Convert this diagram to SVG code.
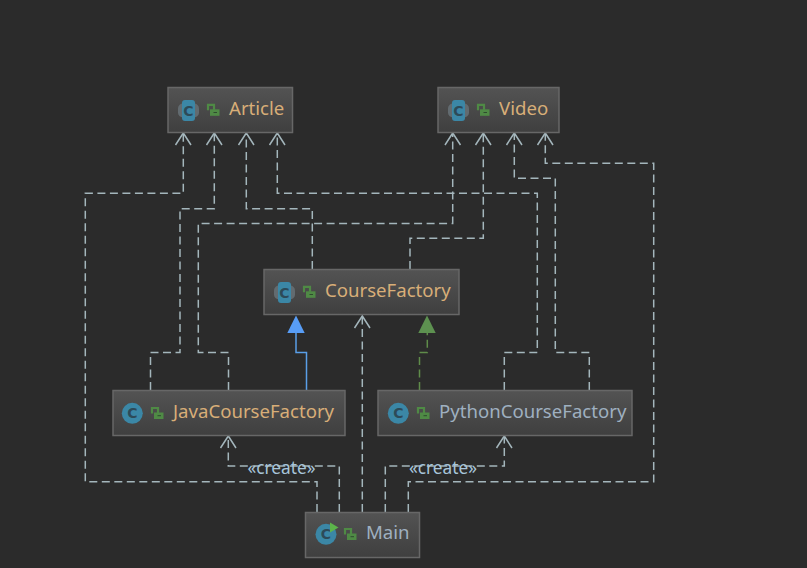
<svg xmlns="http://www.w3.org/2000/svg" xmlns:xlink="http://www.w3.org/1999/xlink" width="807" height="568" viewBox="0 0 807 568">
<style>
.box{fill:url(#boxg);stroke:#676767;stroke-width:1.5}
.name{font-family:"Noto Sans","DejaVu Sans",sans-serif;font-size:18.6px}
.o{fill:#d8ae78}
.b{fill:#9fb0c0}
.c{fill:none;stroke:#a4b6bc;stroke-width:1.5;stroke-dasharray:8 4.5}
.h{fill:none;stroke:#a4b6bc;stroke-width:1.5}
.lbl{font-family:"Noto Sans","DejaVu Sans",sans-serif;font-size:17.300px;fill:#a8c5da;text-anchor:middle}
.ic{font-family:"DejaVu Sans",sans-serif;font-size:14px;font-weight:bold;fill:#2d4a58;text-anchor:middle}
</style>
<defs>
<linearGradient id="boxg" x1="0" y1="0" x2="0" y2="1"><stop offset="0" stop-color="#535353"/><stop offset="1" stop-color="#3f3f3f"/></linearGradient>
<g id="lock"><path d="M1 6.500V1H7V6" fill="none" stroke="#4f8a45" stroke-width="2.200"/><rect x="3" y="5.500" width="9.500" height="6.500" fill="#4f8a45"/><rect x="6.500" y="8.200" width="3.500" height="1" fill="#2f4a2f"/></g>
<g id="cabs"><rect x="-10.500" y="-7" width="21" height="14" rx="5" fill="#626b70"/><rect x="-6.500" y="-10.500" width="13" height="21" rx="3" fill="#3b87a6"/></g>
</defs>
<rect width="807" height="568" fill="#2b2b2b"/>
<g id="connectors">
<path class="c" d="M317 512V481.700H85.300V193.300H183.300V134"/>
<path class="c" d="M150.500 390V352.500H180V208.700H214.300V134"/>
<path class="c" d="M228.500 390V352.500H198.300V223.500H452.700V134"/>
<path class="c" d="M312.300 269V208.700H246.300V134"/>
<path class="c" d="M410 269V238.300H483.300V134"/>
<path class="c" d="M504.300 390V352.500H537.300V193.300H277.300V134"/>
<path class="c" d="M589.300 390V352.500H555.300V178.300H514.300V134"/>
<path class="c" d="M408.300 512V481.700H653.700V163.300H545.300V134"/>
<path class="c" d="M339.300 512V466H228.300V437"/>
<path class="c" d="M385.300 512V466H504.300V437"/>
<path class="c" d="M362.300 512V316"/>
<path class="h" d="M175.500 145L183.300 133L191 145M206.500 145L214.300 133L222 145M238.500 145L246.300 133L254 145M269.500 145L277.300 133L285 145"/>
<path class="h" d="M445 145L452.700 133L460.500 145M475.500 145L483.300 133L491 145M506.500 145L514.300 133L522 145M537.500 145L545.300 133L553 145"/>
<path class="h" d="M220.500 448L228.300 436L236 448M496.500 448L504.300 436L512 448M354.500 328L362.300 316L370 328"/>
<path d="M306.500 390V352.500H296V332" fill="none" stroke="#5a9fe8" stroke-width="1.500"/>
<path d="M287.300 333L296 315.500L304.700 333Z" fill="#589df6"/>
<path d="M419.500 390V352.500H427.300V332" fill="none" stroke="#5f8c4a" stroke-width="1.500" stroke-dasharray="8 4.500"/>
<path d="M418.300 333L427 315.500L435.700 333Z" fill="#5d9150"/>
<text class="lbl" x="281.500" y="473.500">«create»</text>
<text class="lbl" x="443" y="473.500">«create»</text>
</g>
<g id="article">
<rect class="box" x="168" y="87.500" width="124.500" height="45"/>
<use xlink:href="#cabs" x="188.500" y="110.500"/>
<text class="ic" x="188.500" y="115.500">C</text>
<use xlink:href="#lock" x="207" y="103.800"/>
<text class="name o" x="229" y="115">Article</text>
</g>
<g id="video">
<rect class="box" x="438" y="87.500" width="121" height="45"/>
<use xlink:href="#cabs" x="458.500" y="110.500"/>
<text class="ic" x="458.500" y="115.500">C</text>
<use xlink:href="#lock" x="477" y="103.800"/>
<text class="name o" x="499" y="115">Video</text>
</g>
<g id="coursefactory">
<rect class="box" x="264" y="269.500" width="195" height="45"/>
<use xlink:href="#cabs" x="284.500" y="292.500"/>
<text class="ic" x="284.500" y="297.500">C</text>
<use xlink:href="#lock" x="303" y="285.800"/>
<text class="name o" x="325" y="297">CourseFactory</text>
</g>
<g id="javacoursefactory">
<rect class="box" x="113" y="390.500" width="232" height="45"/>
<circle cx="132.300" cy="413.300" r="10.500" fill="#3b87a6"/>
<text class="ic" x="132.300" y="418.300">C</text>
<use xlink:href="#lock" x="151" y="407"/>
<text class="name o" x="173" y="418">JavaCourseFactory</text>
</g>
<g id="pythoncoursefactory">
<rect class="box" x="378" y="390.500" width="254" height="45"/>
<circle cx="398.300" cy="413.300" r="10.500" fill="#3b87a6"/>
<text class="ic" x="398.300" y="418.300">C</text>
<use xlink:href="#lock" x="417" y="407"/>
<text class="name b" x="439" y="418">PythonCourseFactory</text>
</g>
<g id="main">
<rect class="box" x="305.500" y="512.500" width="114" height="45"/>
<circle cx="326" cy="534.300" r="10.500" fill="#3b87a6"/>
<text class="ic" x="326" y="539.300">C</text>
<path d="M330 522.500L338.500 527.500L330 532.500Z" fill="#5cb54a"/>
<use xlink:href="#lock" x="344" y="528"/>
<text class="name b" x="366" y="539">Main</text>
</g>
</svg>
